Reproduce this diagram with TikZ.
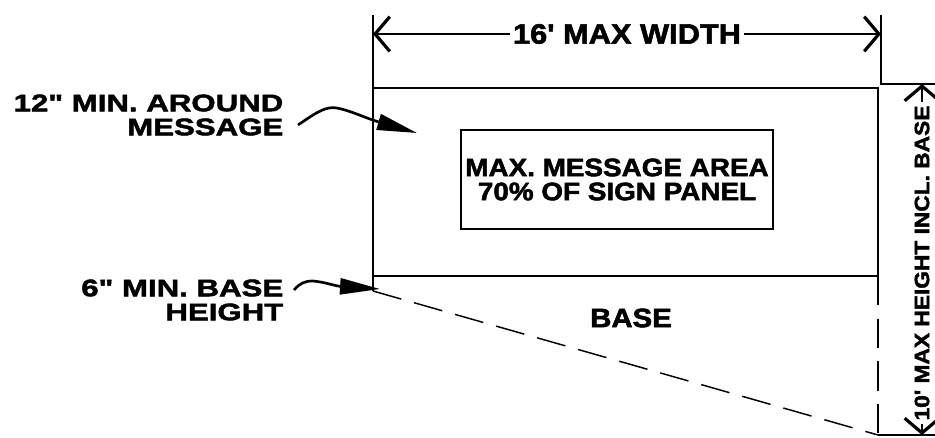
\documentclass[tikz,border=0pt]{standalone}
\usepackage{fontspec}
\newfontfamily\signfont{Liberation Sans}[FakeStretch=1.1,FakeBold=2]
\newfontfamily\signwide{Liberation Sans}[FakeStretch=1.3,FakeBold=2]
\usetikzlibrary{arrows.meta}

\tikzset{
  dimtip/.style={line width=1.1pt,-{Straight Barb[length=11pt,width=26pt,line width=2.4pt]}},
  dimtext/.style={inner sep=2pt,font=\signfont\bfseries\fontsize{#1}{#1}\selectfont},
  note/.style={anchor=east,align=right,inner sep=0pt,font=\signwide\bfseries\fontsize{18}{#1}\selectfont},
  leader/.style={line width=2pt,-{Triangle[length=30pt,width=12pt]}},
  msgbox/.style={draw,line width=1.1pt,align=center,minimum width=234pt,minimum height=74pt,
    font=\signfont\bfseries\fontsize{19}{18}\selectfont},
  basedash/.style={dash pattern=on 22pt off 10pt}
}

\begin{document}
\begin{tikzpicture}[x=0.75pt,y=-0.75pt,line width=1.1pt]
  \useasboundingbox (0,0) rectangle (935,437);

  % sign panel and base
  \coordinate (tl) at (373,88);
  \coordinate (tr) at (878,88);
  \coordinate (bl) at (373,276);
  \coordinate (br) at (878,276);
  \coordinate (dl) at (373,291);
  \coordinate (dr) at (878,435);
  \draw (dl) -- (tl) -- (tr) -- (br) -- (bl);
  \draw[basedash] (dl) -- (dr);
  \draw[basedash] (br) -- (dr);

  \node[msgbox] (msg) at (617,179.5) {MAX. MESSAGE AREA\\70\% OF SIGN PANEL};
  \node[dimtext=20] (base) at (631,318) {BASE};

  % width dimension
  \coordinate (wl) at (373,34);
  \coordinate (wr) at (881,34);
  \draw (373,15) -- (tl);
  \draw (881,15) -- (881,84) -- (935,84);
  \node[dimtext=21] (wlab) at (627,34) {16' MAX WIDTH};
  \draw[dimtip] (wlab.west) -- (wl);
  \draw[dimtip] (wlab.east) -- (wr);

  % height dimension
  \draw (dr) -- (935,435);
  \coordinate (ht) at (922,84);
  \coordinate (hb) at (922,435);
  \node[dimtext=15.5,rotate=90] (hlab) at (922,263) {10' MAX HEIGHT INCL. BASE};
  \draw[dimtip] (hlab.east) -- (ht);
  \draw[dimtip] (hlab.west) -- (hb);

  % notes
  \node[note=18] (around) at (284,115) {12" MIN. AROUND\\MESSAGE};
  \node[note=18] (baseh) at (284,300) {6" MIN. BASE\\HEIGHT};
  \draw[leader] (around.east) ++(14,10) .. controls (317,112) and (326,106) .. (337,108)
    .. controls (352,111) and (365,118) .. (417,133);
  \draw[leader] (baseh.east) ++(10,-10) .. controls (300,283) and (305,281) .. (313,281)
    .. controls (325,282) and (335,286) .. (380,289);
\end{tikzpicture}
\end{document}
